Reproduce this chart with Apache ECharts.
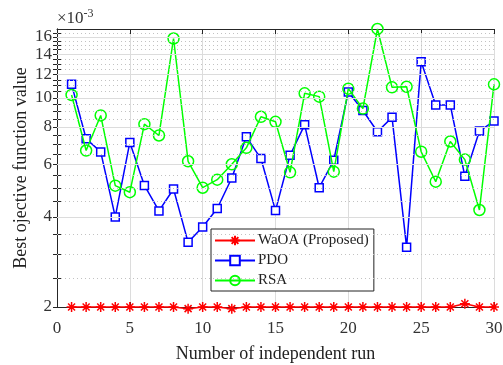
<!DOCTYPE html>
<html>
<head>
<meta charset="utf-8">
<script src="https://cdn.jsdelivr.net/npm/echarts@6/dist/echarts.min.js"></script>
<style>
html,body{margin:0;padding:0;background:#fff;}
#chart{width:503px;height:365px;}
</style>
</head>
<body>
<div id="chart"></div>
<script>
// values in units of 1e-3
const runs = [1,2,3,4,5,6,7,8,9,10,11,12,13,14,15,16,17,18,19,20,21,22,23,24,25,26,27,28,29,30];
const waoa = [2.0,2.0,2.0,2.0,2.0,2.0,2.0,2.0,1.975,2.0,2.0,1.975,2.0,2.0,2.0,2.0,2.0,2.0,2.0,2.0,2.0,2.0,2.0,2.0,2.0,2.0,2.0,2.05,2.0,2.0];
const pdo = [11.1,7.3,6.6,4.0,7.1,5.1,4.19,4.96,3.29,3.70,4.27,5.4,7.41,6.27,4.2,6.43,8.13,5.01,6.19,10.47,9.08,7.71,8.61,3.17,13.2,9.47,9.47,5.47,7.75,8.37];
const rsa = [10.23,6.67,8.74,5.09,4.84,8.17,7.49,15.8,6.14,5.01,5.33,6.0,6.81,8.65,8.32,5.64,10.36,10.1,5.67,10.74,9.21,17.0,10.85,10.9,6.61,5.25,7.15,6.22,4.22,11.1];
const yMajorTicks = [2,4,6,8,10,12,14,16];
const yMinorTicks = [2.5,3,3.5,4.5,5,5.5,6.5,7,7.5,8.5,9,9.5,10.5,11,11.5,12.5,13,13.5,14.5,15,15.5,16.5];
const xTicks = [0,5,10,15,20,25,30];
const seriesNames = ['WaOA (Proposed)','PDO','RSA'];

const FONT = 'Liberation Serif';
const asterisk = 'path://M5,0L5,10M0,5L10,5M1.5,1.5L8.5,8.5M1.5,8.5L8.5,1.5';

function pairs(arr){ return arr.map((v,i)=>[runs[i], v]); }
const allYTicks = yMajorTicks.concat(yMinorTicks).sort((a,b)=>a-b);

const chart = echarts.init(document.getElementById('chart'), null, {renderer:'canvas'});
const axisColor = '#262626';
const tickRich = {t:{fontFamily:FONT, fontSize:17, color:'#333'}};

const option = {
  backgroundColor:'#fff',
  animation:false,
  textStyle:{fontFamily:FONT},
  grid: {left:57, right:9, top:29, bottom:58, containLabel:false, outerBoundsMode:'none'},
  xAxis: [
    {type:'value', min:xTicks[0], max:xTicks[xTicks.length-1], interval:5, position:'bottom',
     axisLine:{show:true, lineStyle:{color:axisColor, width:1}},
     axisTick:{show:true, inside:true, length:5, lineStyle:{color:axisColor}},
     axisLabel:{color:'#333', fontFamily:FONT, fontSize:17, margin:13, rich:tickRich,
       formatter:v=>'{t|'+v+'}'},
     splitLine:{show:true, lineStyle:{color:'#dcdcdc', width:1}},
     name:'Number of independent run', nameLocation:'middle', nameGap:38,
     nameTextStyle:{color:'#222', fontFamily:FONT, fontSize:18}},
    {type:'value', min:xTicks[0], max:xTicks[xTicks.length-1], interval:5, position:'top',
     axisLine:{show:true, lineStyle:{color:axisColor, width:1}},
     axisTick:{show:true, inside:true, length:5, lineStyle:{color:axisColor}},
     axisLabel:{show:false}, splitLine:{show:false}}
  ],
  yAxis: [
    {type:'log', logBase:10, min:2, max:17, position:'left', offset:0,
     axisLine:{show:true, lineStyle:{color:axisColor, width:1}},
     axisTick:{show:true, inside:true, length:4, customValues:allYTicks, lineStyle:{color:axisColor}},
     axisLabel:{show:true, customValues:yMajorTicks, color:'#333', fontFamily:FONT, fontSize:17, margin:5,
       rich:tickRich, formatter:v=>'{t|'+Math.round(v)+'}'},
     splitLine:{show:false},
     minorTick:{show:false}, minorSplitLine:{show:false},
     name:'Best ojective function value', nameLocation:'middle', nameGap:27, nameMoveOverlap:false,
     nameTextStyle:{color:'#222', fontFamily:FONT, fontSize:18}},
    {type:'log', logBase:10, min:2, max:17, position:'right', offset:0,
     axisLine:{show:true, lineStyle:{color:axisColor, width:1}},
     axisTick:{show:true, inside:true, length:4, customValues:allYTicks, lineStyle:{color:axisColor}},
     axisLabel:{show:false, customValues:yMajorTicks}, splitLine:{show:false}}
  ],
  legend: {
    orient:'vertical', left:211, top:229,
    backgroundColor:'#fff', borderColor:'#222', borderWidth:1,
    padding:[4,5,3,3], itemGap:5, itemWidth:40, itemHeight:12,
    textStyle:{fontFamily:FONT, fontSize:15, color:'#222', padding:[0,0,0,-2]},
    data: seriesNames
  },
  graphic: [
    {type:'text', left:57, top:8, style:{
      text:'×10{s|-3}', font:'17px "Liberation Serif"', fill:'#333',
      rich:{s:{fontSize:12, fontFamily:FONT, padding:[0,0,10,0], fill:'#333'}}}}
  ],
  series: [
    {name:'gridLines', type:'line', data:[], yAxisIndex:0, silent:true, z:1,
     markLine:{silent:true, symbol:['none','none'], label:{show:false},
       data: yMinorTicks.map(v=>({yAxis:v, lineStyle:{color:'#c2c2c2', width:1, type:[1,3]}}))
         .concat(yMajorTicks.slice(1).map(v=>({yAxis:v, lineStyle:{color:'#dcdcdc', width:1, type:'solid'}})))}},
    {name:seriesNames[1], type:'line', data:pairs(pdo), xAxisIndex:0, yAxisIndex:0,
     symbol:'rect', symbolSize:8, showAllSymbol:true, clip:false,
     lineStyle:{color:'#0000ff', width:1.5},
     itemStyle:{color:'#fff', borderColor:'#0000ff', borderWidth:1.5}, z:3},
    {name:seriesNames[2], type:'line', data:pairs(rsa), xAxisIndex:0, yAxisIndex:0,
     symbol:'circle', symbolSize:11, showAllSymbol:true, clip:false,
     lineStyle:{color:'#00ff00', width:1.5},
     itemStyle:{color:'rgba(0,0,0,0)', borderColor:'#00ff00', borderWidth:1.5}, z:4},
    {name:seriesNames[0], type:'line', data:pairs(waoa), xAxisIndex:0, yAxisIndex:0,
     symbol:asterisk, symbolSize:10, showAllSymbol:true, clip:false,
     lineStyle:{color:'#ff0000', width:1.5},
     itemStyle:{color:'#ff0000', borderColor:'#ff0000', borderWidth:1.5}, z:5}
  ]
};
chart.setOption(option);
</script>
</body>
</html>
